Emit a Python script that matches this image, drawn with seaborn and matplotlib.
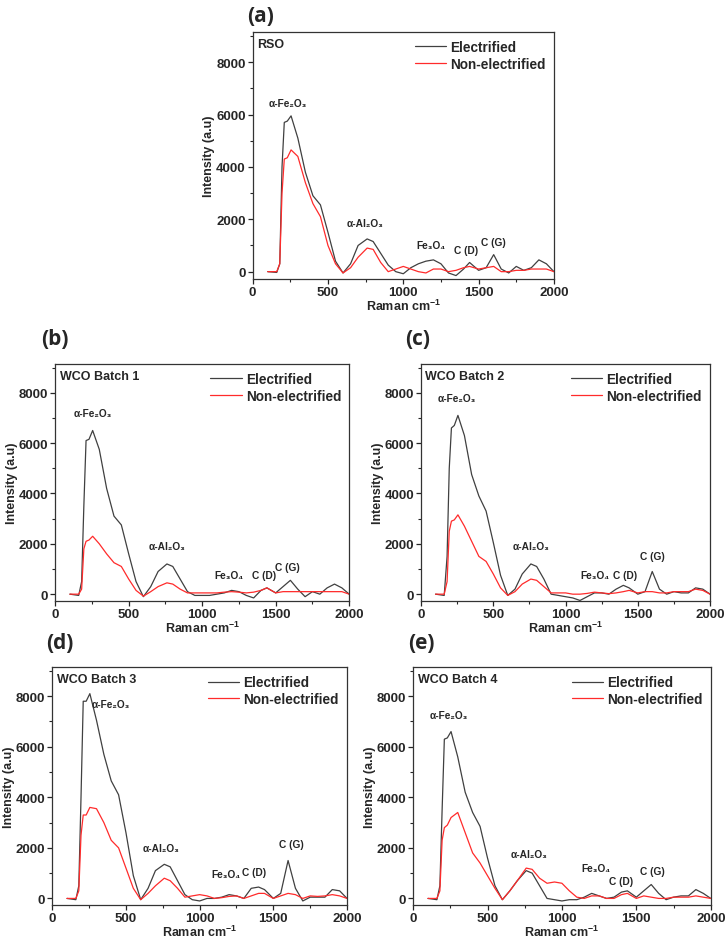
import seaborn as sns
import matplotlib.pyplot as plt
import pandas as pd
from matplotlib.ticker import MultipleLocator

sns.set_style('ticks')
plt.rcParams['font.family'] = ['Liberation Sans', 'DejaVu Sans']
plt.rcParams['mathtext.fontset'] = 'custom'
plt.rcParams['mathtext.bf'] = 'Liberation Sans:bold'
plt.rcParams['mathtext.rm'] = 'Liberation Sans:bold'

# Raman shift grid (cm-1)
raman = [100, 160, 180, 195, 210, 230, 255, 300, 350, 400, 450, 500, 550, 600, 650,
         700, 760, 800, 850, 900, 950, 1000, 1050, 1100, 1150, 1200, 1250, 1300, 1350,
         1400, 1440, 1500, 1550, 1600, 1650, 1700, 1750, 1800, 1850, 1900, 1950, 2000]

# (a) RSO
rso_elec = [0, -30, 300, 4000, 5700, 5750, 5950, 5100, 3800, 2900, 2550, 1500, 400, -50, 300,
            1000, 1250, 1150, 700, 250, 0, -80, 150, 300, 400, 450, 300, -50, -150,
            100, 350, 50, 150, 650, 100, -50, 200, 50, 150, 450, 300, 0]
rso_non = [0, 0, 300, 3000, 4300, 4350, 4650, 4400, 3400, 2600, 2100, 1000, 300, -50, 150,
           550, 900, 850, 350, 0, 100, 200, 100, 0, -50, 100, 100, 0, 50,
           150, 200, 100, 150, 200, 0, 0, 50, 50, 100, 100, 100, 0]

# (b) WCO Batch 1
b1_elec = [0, -50, 500, 3500, 6100, 6150, 6500, 5750, 4200, 3100, 2750, 1600, 500, -100, 300,
           900, 1200, 1100, 600, 100, -50, -50, -50, 0, 50, 150, 100, -50, -150,
           150, 250, 50, 300, 550, 200, -100, 100, 0, 250, 400, 250, 0]
b1_non = [0, 0, 200, 1800, 2100, 2150, 2300, 2000, 1600, 1250, 1100, 600, 150, -80, 100,
          300, 450, 400, 200, 50, 50, 50, 50, 50, 80, 100, 80, 50, 80,
          150, 250, 50, 100, 100, 100, 100, 100, 100, 100, 100, 100, 0]

# (c) WCO Batch 2
b2_elec = [0, -50, 1500, 5000, 6600, 6700, 7100, 6300, 4750, 3900, 3300, 2050, 750, -50, 200,
           800, 1200, 1100, 600, 0, -50, -100, -150, -250, -100, 50, 50, 0, 200,
           350, 250, 0, 100, 900, 200, 0, 100, 50, 50, 250, 200, 0]
b2_non = [0, 0, 500, 2500, 2900, 2950, 3150, 2700, 2100, 1500, 1300, 800, 250, -50, 100,
          400, 600, 550, 300, 50, 50, 50, 0, 0, 30, 80, 50, 20, 50,
          100, 150, 50, 100, 100, 50, 50, 100, 100, 100, 200, 150, 0]

# (d) WCO Batch 3
b3_elec = [0, -50, 500, 4000, 7800, 7800, 8100, 7050, 5700, 4650, 4100, 2600, 900, -50, 400,
           1100, 1350, 1250, 700, 150, -50, -100, 0, 0, 50, 150, 100, 0, 400,
           450, 350, 0, 200, 1500, 400, -100, 50, 50, 50, 350, 300, 0]
b3_non = [0, 0, 300, 2500, 3300, 3300, 3600, 3550, 3000, 2300, 2000, 1200, 400, -50, 200,
          500, 800, 700, 400, 50, 100, 150, 100, 0, 30, 80, 100, 0, 100,
          200, 200, 0, 100, 200, 150, 0, 100, 80, 100, 150, 100, 0]

# (e) WCO Batch 4
b4_elec = [0, -50, 500, 3500, 6300, 6350, 6600, 5600, 4200, 3400, 2850, 1600, 500, -50, 300,
           700, 1100, 1000, 500, 0, -50, -100, -50, -50, 50, 200, 100, 0, 50,
           250, 300, 50, 300, 550, 200, -50, 50, 100, 100, 350, 200, 0]
b4_non = [0, 0, 300, 2300, 2800, 2900, 3200, 3400, 2600, 1800, 1400, 900, 400, -50, 300,
          700, 1200, 1150, 800, 600, 650, 600, 300, 50, 0, 100, 100, 0, 0,
          150, 200, 0, 100, 50, 0, 0, 50, 50, 50, 100, 50, 0]

panel_tags = ['(a)', '(b)', '(c)', '(d)', '(e)']
sample_names = ['RSO', 'WCO Batch 1', 'WCO Batch 2', 'WCO Batch 3', 'WCO Batch 4']
elec_series = [rso_elec, b1_elec, b2_elec, b3_elec, b4_elec]
non_series = [rso_non, b1_non, b2_non, b3_non, b4_non]

peak_names = ['α-Fe₂O₃', 'α-Al₂O₃', 'Fe₃O₄', 'C (D)', 'C (G)']
# label anchor (x, y) per panel
peak_pos = [
    [(233, 6250), (747, 1650), (1186, 830), (1419, 640), (1600, 950)],
    [(255, 7000), (760, 1700), (1180, 580), (1420, 550), (1580, 900)],
    [(250, 7600), (760, 1700), (1200, 580), (1410, 580), (1600, 1300)],
    [(400, 7500), (740, 1800), (1180, 780), (1370, 840), (1620, 1950)],
    [(240, 7050), (780, 1550), (1230, 1000), (1400, 500), (1610, 900)],
]

fig = plt.figure(figsize=(7.26, 9.45), dpi=100)
axes_rect = [
    [0.348, 0.704, 0.415, 0.261],
    [0.076, 0.363, 0.405, 0.251],
    [0.580, 0.363, 0.398, 0.251],
    [0.072, 0.041, 0.406, 0.252],
    [0.569, 0.041, 0.410, 0.252],
]
tag_xy = [(261, 17), (55, 340), (418, 340), (60, 644), (421, 644)]

for i in range(5):
    ax = fig.add_axes(axes_rect[i])
    df = pd.DataFrame({
        'Raman': raman * 2,
        'Intensity': elec_series[i] + non_series[i],
        'Sample': ['Electrified'] * len(raman) + ['Non-electrified'] * len(raman),
    })
    sns.lineplot(data=df, x='Raman', y='Intensity', hue='Sample',
                 palette={'Electrified': '#404040', 'Non-electrified': '#ff2b2b'},
                 linewidth=0.9, ax=ax)
    ax.set_xlim(0, 2000)
    ax.set_ylim(-270, 9150)
    ax.xaxis.set_major_locator(MultipleLocator(500))
    ax.xaxis.set_minor_locator(MultipleLocator(250))
    ax.yaxis.set_major_locator(MultipleLocator(2000))
    ax.yaxis.set_minor_locator(MultipleLocator(1000))
    ax.tick_params(which='major', length=3.5, width=0.9, labelsize=9.5, pad=1.5)
    ax.tick_params(which='minor', length=2, width=0.8)
    for lab in ax.get_xticklabels() + ax.get_yticklabels():
        lab.set_fontweight('bold')
    for sp in ax.spines.values():
        sp.set_linewidth(0.9)
        sp.set_color('#333333')
    ax.set_xlabel('Raman cm$^{\\mathbf{-1}}$', fontsize=9, fontweight='bold', labelpad=0)
    ax.set_ylabel('Intensity (a.u)', fontsize=9, fontweight='bold', labelpad=0.5)
    leg = ax.legend(loc='upper right', frameon=False, fontsize=9.8, handlelength=2.3,
                    borderaxespad=0.2, handletextpad=0.3, labelspacing=0.2)
    for t in leg.get_texts():
        t.set_fontweight('bold')
    ax.text(0.015, 0.975, sample_names[i], transform=ax.transAxes, ha='left', va='top',
            fontsize=9, fontweight='bold')
    for name, (px, py) in zip(peak_names, peak_pos[i]):
        ax.text(px, py, name, ha='center', va='bottom', fontsize=7.3, fontweight='bold')
    fig.text(tag_xy[i][0] / 726, 1 - tag_xy[i][1] / 945, panel_tags[i], ha='center',
             va='center', fontsize=15, fontweight='bold', family=['Open Sans', 'DejaVu Sans'])

plt.savefig('out.png', dpi=100)
